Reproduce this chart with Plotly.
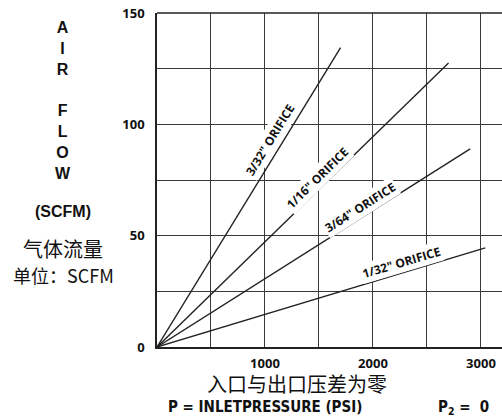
import plotly.graph_objects as go

# orifice curves: straight lines from origin to end point (psi, scfm)
orifices = ['3/32" ORIFICE', '1/16" ORIFICE', '3/64" ORIFICE', '1/32" ORIFICE']
end_psi = [1700, 2700, 2900, 3040]
end_scfm = [134.5, 127.5, 89, 44.5]

# label anchor positions and angles
label_psi = [1050, 1490, 1880, 2260]
label_scfm = [93, 76, 62.5, 38]
label_angle = [-58.5, -44.5, -32.5, -16.5]

x_ticks = [500, 1000, 1500, 2000, 2500, 3000]
x_text = ['', '1000', '', '2000', '', '3000']
y_ticks = [0, 25, 50, 75, 100, 125, 150]
y_text = ['0', '', '50', '', '100', '', '150']

fig = go.Figure()
for i in range(len(orifices)):
    fig.add_trace(go.Scatter(x=[0, end_psi[i]], y=[0, end_scfm[i]], mode='lines',
                             line=dict(color='#222222', width=1.4), showlegend=False,
                             hoverinfo='skip'))
    fig.add_annotation(x=label_psi[i], y=label_scfm[i], text='<b>' + orifices[i] + '</b>',
                       textangle=label_angle[i], showarrow=False, bgcolor='white',
                       font=dict(family='Open Sans', size=12, color='#111111'))

def side_text(x, y, text, family, size):
    fig.add_annotation(xref='paper', yref='paper', x=x, y=y, text=text, showarrow=False,
                       xanchor='center', yanchor='middle',
                       font=dict(family=family, size=size, color='#111111'))

# left title (letter stack centred on the A...W span)
side_text(-0.272, 0.7395, '<b>A<br>I<br>R<br><br>F<br>L<br>O<br>W</b>', 'Liberation Sans', 16)
side_text(-0.272, 0.407, '<b>(SCFM)</b>', 'Liberation Sans', 16)
side_text(-0.272, 0.296, '气体流量', 'Noto Sans CJK SC', 20)
side_text(-0.272, 0.216, '单位：SCFM', 'Noto Sans CJK SC', 18)

# bottom titles
side_text(0.406, -0.108, '入口与出口压差为零', 'Noto Sans CJK SC', 20)
side_text(0.313, -0.18, '<b>P = INLETPRESSURE (PSI)</b>', 'DejaVu Sans Condensed', 15)
side_text(0.887, -0.18, '<b>P<sub>2</sub> =  0</b>', 'DejaVu Sans Condensed', 15)

# top border
fig.add_shape(type='line', xref='paper', yref='paper', x0=0, x1=1, y0=1, y1=1,
              line=dict(color='#222222', width=1.5))

fig.update_layout(
    width=502, height=416,
    margin=dict(l=157, r=0, t=13, b=69, autoexpand=False),
    plot_bgcolor='white', paper_bgcolor='white',
    xaxis=dict(range=[0, 3195], tickvals=x_ticks, ticktext=x_text, automargin=False,
               showgrid=True, gridcolor='#3a3a3a', gridwidth=1,
               showline=True, linecolor='#222222', linewidth=1.5,
               zeroline=False, ticks='', ticklabelstandoff=4, ticklabeloverflow='allow',
               tickfont=dict(family='Open Sans', size=13, color='#111111', weight='bold')),
    yaxis=dict(range=[0, 150], tickvals=y_ticks, ticktext=y_text, automargin=False,
               showgrid=True, gridcolor='#3a3a3a', gridwidth=1,
               showline=True, linecolor='#222222', linewidth=1.5,
               zeroline=False, ticks='', ticklabelstandoff=8, ticklabeloverflow='allow',
               tickfont=dict(family='Open Sans', size=13, color='#111111', weight='bold')),
)

# drop the default body margin so the figure fills the window
fig.write_html("out.html", config={'displayModeBar': False},
               post_script='document.body.style.margin = "0";')
